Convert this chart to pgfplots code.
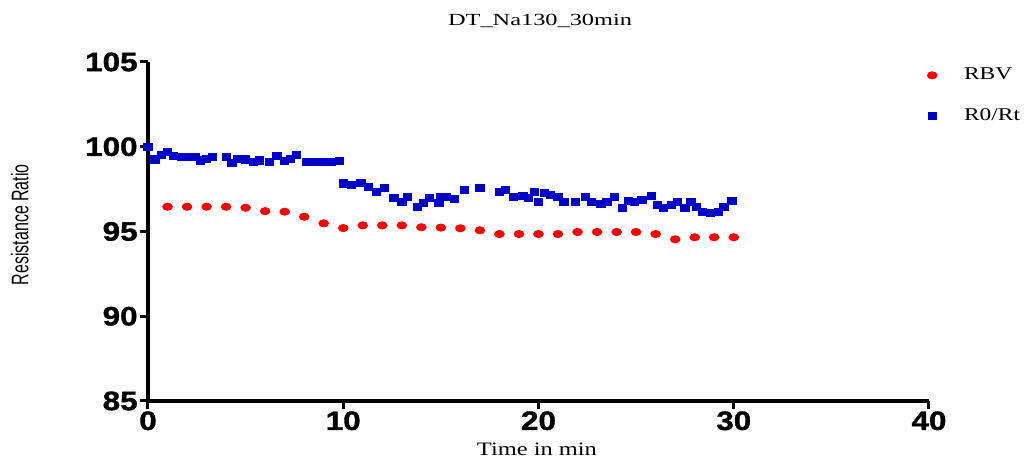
\documentclass[border=0pt]{standalone}
\usepackage{pgfplots}
\pgfplotsset{compat=1.18}
\usepackage{fontspec}
\setmainfont{Liberation Serif}
\newfontfamily\arial{Liberation Sans}
\newfontfamily\arialheavy{Liberation Sans Bold}[FakeBold=1.2]
\definecolor{rbvred}{RGB}{255,0,0}
\definecolor{rblue}{RGB}{0,0,200}
\begin{document}
\begin{tikzpicture}
\useasboundingbox (-74pt,-29pt) rectangle (443.5pt,200.5pt);
\begin{axis}[
  at={(0pt,0pt)}, anchor=south west,
  scale only axis, width=390.5pt, height=169.5pt,
  xmin=0, xmax=40, ymin=85, ymax=105,
  xtick={0,10,20,30,40}, ytick={85,90,95,100,105},
  axis x line*=bottom, axis y line*=left,
  axis line style={line width=2.2pt, black},
  tick style={line width=1.5pt, black},
  tick align=outside, major tick length=4pt,
  clip=false,
  /pgf/number format/assume math mode=true,
  tick label style={font=\fontsize{13.3}{14}\selectfont\arialheavy},
  xticklabel={\scalebox{1.18}[1]{\pgfmathprintnumber{\tick}}},
  yticklabel={\scalebox{1.18}[1]{\pgfmathprintnumber{\tick}}},
  xticklabel style={inner sep=1pt},
  yticklabel style={inner sep=1pt},
  title={\resizebox{92pt}{\height}{DT\_Na130\_30min}},
  title style={at={(axis description cs:0.502,1.086)}, anchor=center, yshift=0pt, font=\fontsize{8.5}{9}\selectfont, inner sep=0pt},
  xlabel={\resizebox{60pt}{\height}{Time in min}},
  xlabel style={at={(axis description cs:0.498,-0.142)}, anchor=center, font=\fontsize{9.5}{10}\selectfont, inner sep=0pt},
  ylabel={\scalebox{1}[1.5]{\arial Resistance Ratio}},
  ylabel style={at={(axis description cs:-0.164,0.52)}, anchor=center, font=\fontsize{8}{9}\selectfont, inner sep=0pt},
  legend style={at={(axis description cs:1.0,0.96)}, anchor=north west, xshift=-4pt, yshift=8pt, draw=none, fill=none,
    font=\fontsize{9}{10}\selectfont, row sep=9pt,
    /tikz/every even column/.append style={column sep=0pt}},
  legend cell align=left,
  legend image code/.code={\draw[#1] plot coordinates {(4pt,0pt)};},
]
\addplot[only marks, mark=*, color=rbvred, mark options={xscale=1.35, draw=rbvred, fill=rbvred}, mark size=1.8pt]
coordinates {
(1,96.46)(2,96.46)(3,96.46)(4,96.46)(5,96.40)(6,96.20)(7,96.17)(8,95.87)(9,95.48)(10,95.20)
(11,95.36)(12,95.36)(13,95.36)(14,95.25)(15,95.23)(16,95.19)(17,95.07)(18,94.85)(19,94.85)(20,94.85)
(21,94.85)(22,94.97)(23,94.97)(24,94.97)(25,94.97)(26,94.85)(27,94.54)(28,94.66)(29,94.66)(30,94.66)
};
\addlegendentry{\hspace{11.5pt}\scalebox{1.3}[1]{RBV}}
\addplot[only marks, mark=square*, color=rblue, mark options={xscale=1.15, draw=rblue, fill=rblue}, mark size=1.8pt]
coordinates {
(0,100.0)(0.35,99.25)(0.7,99.5)(1.0,99.7)(1.3,99.45)(1.7,99.42)(2.0,99.42)(2.4,99.42)(2.7,99.2)(3.0,99.3)
(3.3,99.4)(4.0,99.4)(4.3,99.05)(4.6,99.3)(5.0,99.25)(5.4,99.12)(5.7,99.2)(6.2,99.12)(6.6,99.47)(7.0,99.15)
(7.3,99.3)(7.6,99.51)(8.1,99.12)(8.6,99.12)(9.0,99.1)(9.4,99.12)(9.8,99.15)
(10.0,97.84)(10.4,97.74)(10.9,97.88)(11.3,97.64)(11.7,97.35)(12.1,97.55)(12.6,96.96)(13.0,96.76)(13.3,97.02)(13.8,96.46)
(14.1,96.7)(14.4,96.96)(14.9,96.7)(15.0,97.06)(15.3,97.02)(15.7,96.9)(16.2,97.45)(17.0,97.55)(18.0,97.35)(18.3,97.45)
(18.7,97.04)(19.2,97.1)(19.5,97.0)(19.8,97.35)(20.0,96.76)(20.3,97.27)(20.6,97.15)(21.0,97.02)(21.3,96.76)(21.9,96.76)
(22.4,97.02)(22.7,96.76)(23.2,96.64)(23.5,96.76)(23.9,97.02)(24.3,96.37)(24.6,96.82)(24.9,96.76)(25.3,96.86)(25.8,97.1)
(26.1,96.56)(26.4,96.37)(26.8,96.56)(27.1,96.76)(27.5,96.37)(27.8,96.76)(28.1,96.43)(28.4,96.17)(28.8,96.11)(29.2,96.17)
(29.5,96.43)(29.9,96.82)
};
\addlegendentry{\hspace{11.5pt}\scalebox{1.3}[1]{R0/Rt}}
\end{axis}
\end{tikzpicture}
\end{document}
